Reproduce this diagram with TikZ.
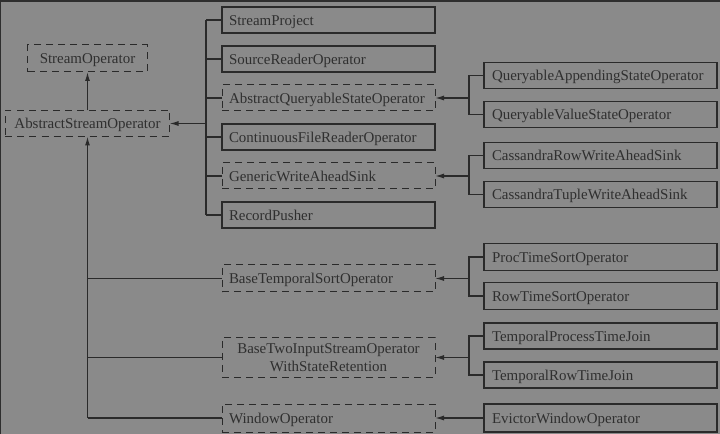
\documentclass[tikz,border=0pt]{standalone}
\usepackage{fontspec}
\setmainfont{Liberation Serif}
\usepackage{xcolor}
\usepackage{tikz}
\usetikzlibrary{shapes, arrows.meta, positioning, calc}

\definecolor{bggray}{HTML}{8A8A8A}
\definecolor{edgegray}{HTML}{2E2E2E}
\definecolor{linegray}{HTML}{2A2A2A}
\definecolor{textgray}{HTML}{2F2F2F}

\begin{document}
\begin{tikzpicture}[x=1bp, y=-1bp, node distance=13bp,
    >={Latex[length=9bp,width=5bp]},
    font=\fontsize{15}{18.5}\selectfont,
    conn/.style={draw=linegray, line width=1.2bp},
    opbox/.style={rectangle, draw=linegray, line width=1.7bp, outer sep=0pt, text=textgray},
    absbox/.style={rectangle, draw=linegray, line width=1bp, outer sep=0pt, dash pattern=on 7bp off 5bp, text=textgray},
    oneline/.style={minimum height=26bp, text height=12.5bp, text depth=2bp},
    midcol/.style={oneline, text width=199bp, inner xsep=7bp, align=left},
    rightcol/.style={oneline, text width=217bp, inner xsep=8bp, align=left}]

    \useasboundingbox (0,0) rectangle (720,434);
    \fill[bggray] (-2,-2) rectangle (722,436);
    \fill[edgegray] (-2,-2) rectangle (722,2);
    \fill[edgegray] (-2,-2) rectangle (1,436);

    \node [absbox, oneline, minimum width=119bp, minimum height=27bp, align=center] (so) at (87.5,58.5) {StreamOperator};
    \node [absbox, oneline, minimum width=164bp, align=center] (aso) at (87.5,123.5) {AbstractStreamOperator};

    \node [opbox, midcol] (sp) at (328.5,20) {StreamProject};
    \node [opbox, midcol, below=of sp] (sro) {SourceReaderOperator};
    \node [absbox, midcol, below=of sro] (aqso) {AbstractQueryableStateOperator};
    \node [opbox, midcol, below=of aqso] (cfro) {ContinuousFileReaderOperator};
    \node [absbox, midcol, below=of cfro] (gwas) {GenericWriteAheadSink};
    \node [opbox, midcol, below=of gwas] (rp) {RecordPusher};

    \node [absbox, midcol, minimum height=27bp] (btso) at (328.5,278.5) {BaseTemporalSortOperator};
    \node [absbox, text width=199bp, inner xsep=7bp, minimum height=39bp, align=center] (btis) at (328.5,357.5) {BaseTwoInputStreamOperator\\WithStateRetention};
    \node [absbox, midcol, minimum height=28bp] (wo) at (328.5,418) {WindowOperator};

    \node [opbox, rightcol] (qaso) at (600.5,75.5) {QueryableAppendingStateOperator};
    \node [opbox, rightcol, below=of qaso] (qvso) {QueryableValueStateOperator};
    \node [opbox, rightcol] (crwas) at (600.5,155.5) {CassandraRowWriteAheadSink};
    \node [opbox, rightcol, below=of crwas] (ctwas) {CassandraTupleWriteAheadSink};
    \node [opbox, rightcol, minimum height=27bp] (ptso) at (600.5,257) {ProcTimeSortOperator};
    \node [opbox, rightcol, minimum height=27bp, below=12bp of ptso] (rtso) {RowTimeSortOperator};
    \node [opbox, rightcol] (tptj) at (600.5,336) {TemporalProcessTimeJoin};
    \node [opbox, rightcol, below=of tptj] (trtj) {TemporalRowTimeJoin};
    \node [opbox, rightcol, minimum height=28bp] (ewo) at (600.5,418) {EvictorWindowOperator};

    \coordinate (mbar) at (206,0);
    \coordinate (rbar) at (469,0);

    \draw [conn, ->] (aso) -- (so);

    \foreach \n in {sp, sro, aqso, cfro, gwas, rp}
        \draw [conn] (\n.west) -- (\n.west -| mbar);
    \draw [conn] (sp.west -| mbar) -- (rp.west -| mbar);
    \draw [conn, ->] (aso.east -| mbar) -- (aso.east);

    \foreach \n in {btso, btis, wo}
        \draw [conn] (\n.west) -- (\n.west -| aso.south);
    \draw [conn, ->] (wo.west -| aso.south) -- (aso.south);

    \foreach \a/\b/\p in {qaso/qvso/aqso, crwas/ctwas/gwas, ptso/rtso/btso, tptj/trtj/btis} {
        \draw [conn] (\a.west) -- (\a.west -| rbar) -- (\b.west -| rbar) -- (\b.west);
        \draw [conn, ->] (\p.east -| rbar) -- (\p.east);
    }
    \draw [conn, ->] (ewo) -- (wo);
\end{tikzpicture}
\end{document}
